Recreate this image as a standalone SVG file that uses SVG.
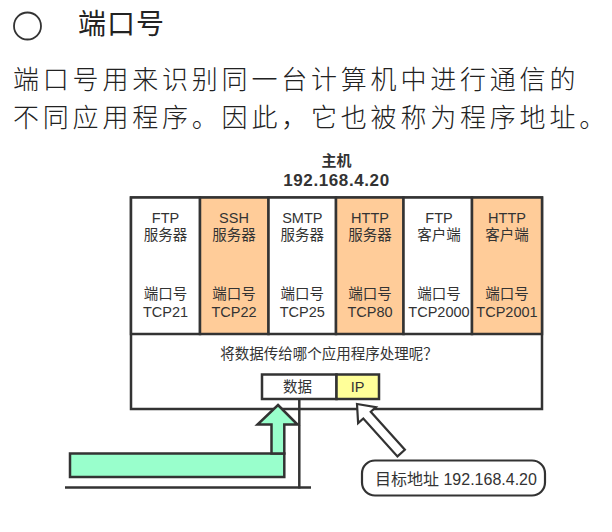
<svg xmlns="http://www.w3.org/2000/svg" width="612" height="532" viewBox="0 0 612 532">
  <style>
    .cjk { font-family: "Noto Sans CJK SC", sans-serif; fill: #222; }
    .lbl { font-family: "Liberation Sans", "Noto Sans CJK SC", sans-serif; font-size: 14.5px; fill: #333; text-anchor: middle; }
    .cell { stroke: #333; stroke-width: 2.5; }
    .white { fill: #FFFFFF; }
    .orange { fill: #FFCC99; }
    .line { stroke: #333; stroke-width: 2.5; fill: none; }
  </style>

  <!-- heading -->
  <g id="heading">
    <circle cx="27.5" cy="26" r="13.5" fill="none" stroke="#333" stroke-width="1.8"/>
    <text class="cjk" x="78" y="34" font-size="28" letter-spacing="1">端口号</text>
  </g>

  <!-- explanatory paragraph -->
  <g id="paragraph" class="cjk" font-size="26" letter-spacing="3.8" font-weight="300">
    <text x="13" y="89">端口号用来识别同一台计算机中进行通信的</text>
    <text x="13" y="127">不同应用程序。因此，它也被称为程序地址。</text>
  </g>

  <!-- host caption -->
  <g id="host-caption" font-family="'Liberation Sans', 'Noto Sans CJK SC', sans-serif" font-weight="bold" fill="#333" text-anchor="middle">
    <text x="336.5" y="166" font-size="15">主机</text>
    <text x="336.5" y="185.5" font-size="17" letter-spacing="0.6">192.168.4.20</text>
  </g>

  <!-- host frame -->
  <g id="host">
    <rect x="131" y="197.5" width="411" height="211.5" fill="#FFFFFF" stroke="#333" stroke-width="2.5"/>
    <text class="lbl" x="329" y="358.5">将数据传给哪个应用程序处理呢？</text>
  </g>

  <!-- applications -->
  <g id="app-ftp-server">
    <rect class="cell white" x="131" y="197.5" width="69" height="136.5"/>
    <text class="lbl" x="165.5" y="223">FTP</text>
    <text class="lbl" x="165.5" y="240">服务器</text>
    <text class="lbl" x="165.5" y="298.5">端口号</text>
    <text class="lbl" x="165.5" y="316.5">TCP21</text>
  </g>
  <g id="app-ssh-server">
    <rect class="cell orange" x="200" y="197.5" width="68.5" height="136.5"/>
    <text class="lbl" x="234" y="223">SSH</text>
    <text class="lbl" x="234" y="240">服务器</text>
    <text class="lbl" x="234" y="298.5">端口号</text>
    <text class="lbl" x="234" y="316.5">TCP22</text>
  </g>
  <g id="app-smtp-server">
    <rect class="cell white" x="268.5" y="197.5" width="67.5" height="136.5"/>
    <text class="lbl" x="302.3" y="223">SMTP</text>
    <text class="lbl" x="302.3" y="240">服务器</text>
    <text class="lbl" x="302.3" y="298.5">端口号</text>
    <text class="lbl" x="302.3" y="316.5">TCP25</text>
  </g>
  <g id="app-http-server">
    <rect class="cell orange" x="336" y="197.5" width="67.5" height="136.5"/>
    <text class="lbl" x="370" y="223">HTTP</text>
    <text class="lbl" x="370" y="240">服务器</text>
    <text class="lbl" x="370" y="298.5">端口号</text>
    <text class="lbl" x="370" y="316.5">TCP80</text>
  </g>
  <g id="app-ftp-client">
    <rect class="cell white" x="403.5" y="197.5" width="68.5" height="136.5"/>
    <text class="lbl" x="439" y="223">FTP</text>
    <text class="lbl" x="439" y="240">客户端</text>
    <text class="lbl" x="439" y="298.5">端口号</text>
    <text class="lbl" x="439" y="316.5">TCP2000</text>
  </g>
  <g id="app-http-client">
    <rect class="cell orange" x="472" y="197.5" width="70" height="136.5"/>
    <text class="lbl" x="507" y="223">HTTP</text>
    <text class="lbl" x="507" y="240">客户端</text>
    <text class="lbl" x="507" y="298.5">端口号</text>
    <text class="lbl" x="507" y="316.5">TCP2001</text>
  </g>

  <!-- connectors: network wire, incoming packet arrow, address pointer -->
  <g id="connectors">
    <line class="line" x1="299.3" y1="399" x2="299.3" y2="488.5"/>
    <line class="line" x1="65" y1="487.5" x2="311" y2="487.5"/>
    <rect x="70" y="453.5" width="214.3" height="23.5" fill="#99FFCC" stroke="#333" stroke-width="2.5"/>
    <polygon points="278,405 297.5,424.5 284.3,424.5 284.3,453.5 271.5,453.5 271.5,424.5 257.5,424.5" fill="#99FFCC" stroke="#333" stroke-width="2.5" stroke-linejoin="miter"/>
    <polygon transform="translate(357,404) rotate(228)" points="0,0 -15,-12 -15,-5 -66,-5 -66,5 -15,5 -15,12" fill="#FFFFFF" stroke="#333" stroke-width="2.2" stroke-linejoin="miter"/>
  </g>

  <!-- packet: data + IP header -->
  <g id="packet">
    <rect x="262" y="374.5" width="74.5" height="24.5" fill="#FFFFFF" stroke="#333" stroke-width="2.5"/>
    <rect x="336.5" y="374.5" width="42.5" height="24.5" fill="#FFFF99" stroke="#333" stroke-width="2.5"/>
    <text class="lbl" x="297.5" y="392" font-size="15">数据</text>
    <text class="lbl" x="357.5" y="392" font-size="15">IP</text>
  </g>

  <!-- destination address callout -->
  <g id="dest-address">
    <rect x="362" y="460.5" width="183" height="35" rx="13" ry="13" fill="#FFFFFF" stroke="#333" stroke-width="2.2"/>
    <text x="375" y="484.5" font-family="'Liberation Sans', 'Noto Sans CJK SC', sans-serif" font-size="16" fill="#333">目标地址 192.168.4.20</text>
  </g>
</svg>
